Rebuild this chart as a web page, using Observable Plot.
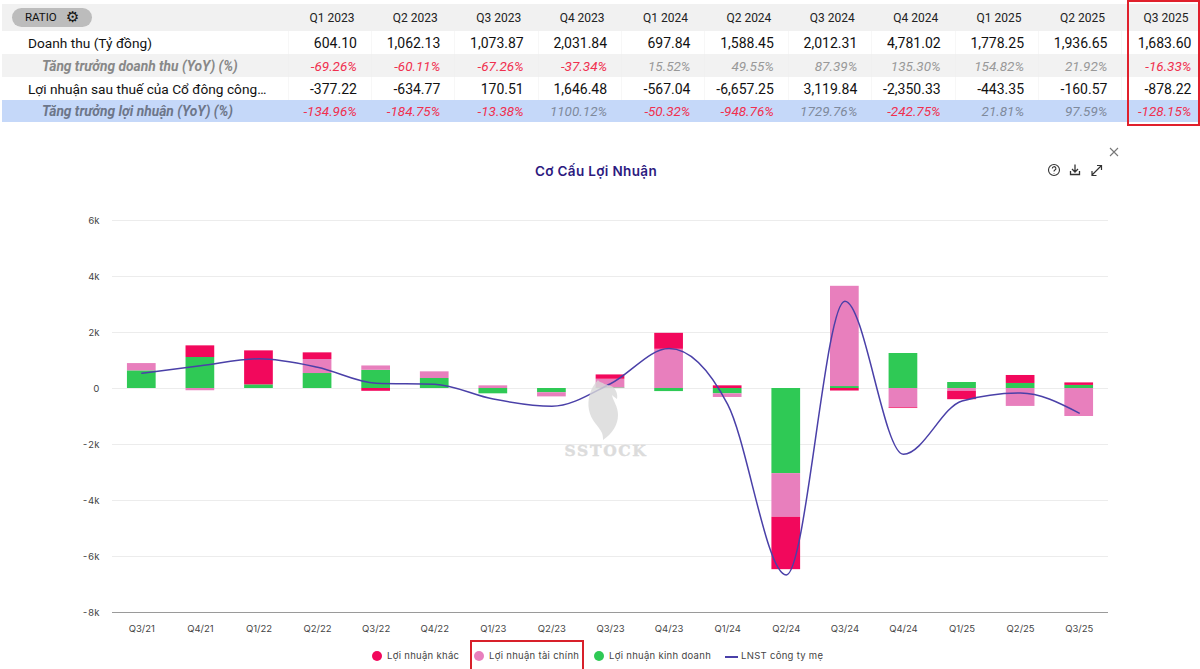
<!DOCTYPE html>
<html lang="vi">
<head>
<meta charset="utf-8">
<script src="https://cdn.jsdelivr.net/npm/d3@7"></script>
<script src="https://cdn.jsdelivr.net/npm/@observablehq/plot@0.6"></script>
<style>
html,body{margin:0;padding:0;background:#fff;width:1200px;height:669px;overflow:hidden}
#page{position:relative;width:1200px;height:669px;overflow:hidden}
#tableWrap{position:absolute;left:2px;top:4px;width:1196px;overflow:hidden}
table{border-collapse:collapse;table-layout:fixed;width:1203.4px;font-family:Roboto,sans-serif}
td{padding:0 14px 0 0;text-align:right;white-space:nowrap;overflow:hidden;box-sizing:border-box;height:23px;font-size:14px;color:#111;border-left:1px solid #f7f7f7}
td:first-child{text-align:left;border-left:0;padding-left:26px;font-size:13.7px}
tr.head td{height:27px;background:#f1f1f1;font-size:12px;color:#222;padding-right:17px;border-left:0}
tr.sub td{background:#f2f2f2;font-style:italic;font-size:13.5px;color:#999;height:23px;border-left-color:#f0f0f0}
tr.sub td:first-child{font-weight:700;color:#888;padding-left:40px;font-size:13.75px}
tr.hl td{background:#c5d8f9;font-style:italic;font-size:13.5px;color:#7f8a9c;height:22px;border-left-color:#c5d8f9}
tr.hl td:first-child{font-weight:700;color:#6d7689;padding-left:40px;font-size:13.75px}
td.neg{color:#f0304f!important}
#pill{position:absolute;left:12px;top:8px;width:80px;height:19px;border-radius:10px;background:#bcbcbc;font:11.5px Roboto,sans-serif;color:#111;line-height:19px}
#pill span{position:absolute;left:13px}
#pill b{position:absolute;left:54px;top:0;font:bold 15px "DejaVu Sans",sans-serif;line-height:18px}
#redBox{position:absolute;left:1127px;top:0;width:69px;height:122px;border:2px solid #e0202c}
#title{position:absolute;left:396px;width:400px;top:163px;text-align:center;font:600 13.5px Inter,sans-serif;letter-spacing:.35px;color:#2c1a80}
#chart{position:absolute;left:0;top:190px}
#legend{position:absolute;left:0;top:649px;font:9.5px Inter,sans-serif;letter-spacing:.3px;color:#444}
#legend i{position:absolute;top:2px;width:10px;height:10px;border-radius:50%}
#legend span{position:absolute;top:1px;white-space:nowrap}
#legend u{position:absolute;top:7px;left:725px;width:13px;height:1.5px;background:#4a40a8}
#legBox{position:absolute;left:470px;top:640px;width:110px;height:27px;border:2px solid #d8202a}
.ov{position:absolute;overflow:visible;pointer-events:none}
</style>
</head>
<body>
<div id="page">
<div id="tableWrap"></div>
<div id="pill"><span>RATIO</span><b>⚙</b></div>
<div id="redBox"></div>
<div id="title">Cơ Cấu Lợi Nhuận</div>
<svg class="ov" style="left:1040px;top:140px" width="90" height="45" fill="none" stroke="#333" stroke-width="1.1">
<path d="M70 8l8 8M78 8l-8 8" stroke="#777"/>
<circle cx="14" cy="30" r="5.5"/><path d="M12.3 28.5a1.8 1.8 0 1 1 2.6 1.6c-.7.4-.9.7-.9 1.3M14 33v.4"/>
<path d="M35 24.5v7M32 29l3 3 3-3M30.5 31v3.5h9V31" stroke-width="1.3"/>
<path d="M52 35l9-9M57 25.5h4.5V30M52 31v4.5h4.5" stroke-width="1.2"/>
</svg>
<div id="chart"></div>
<svg class="ov" style="left:0;top:0;opacity:.8" width="1200" height="669">
<path d="M598 380c-8 8-11 20-9 30 2 11 10 16 13 23 1 3 1 5 1 7 9-6 15-15 15-25 0-9-5-14-6-20 3 3 4 3 5 4 1-5-1-9-4-12-3-2-8-2-10-4-2-1-4-1-5-3z" fill="#d9d9d9"/>
<text x="606" y="456" text-anchor="middle" font-family="DejaVu Serif" font-weight="700" font-size="15.5" letter-spacing="1.7" fill="#d4d4d4" stroke="#d4d4d4" stroke-width=".4">SSTOCK</text>
</svg>
<div id="legend">
<i style="left:372px;background:#f2085c"></i><span style="left:387px">Lợi nhuận khác</span>
<i style="left:474px;background:#e87fbd"></i><span style="left:489px">Lợi nhuận tài chính</span>
<i style="left:594px;background:#2fc955"></i><span style="left:609px">Lợi nhuận kinh doanh</span>
<u></u><span style="left:741px">LNST công ty mẹ</span>
</div>
<div id="legBox"></div>
</div>
<script>
// ---- table data ----
const tableQuarters = ["Q1 2023","Q2 2023","Q3 2023","Q4 2023","Q1 2024","Q2 2024","Q3 2024","Q4 2024","Q1 2025","Q2 2025","Q3 2025"];
const revenue = ["604.10","1,062.13","1,073.87","2,031.84","697.84","1,588.45","2,012.31","4,781.02","1,778.25","1,936.65","1,683.60"];
const revenueGrowth = ["-69.26%","-60.11%","-67.26%","-37.34%","15.52%","49.55%","87.39%","135.30%","154.82%","21.92%","-16.33%"];
const netProfit = ["-377.22","-634.77","170.51","1,646.48","-567.04","-6,657.25","3,119.84","-2,350.33","-443.35","-160.57","-878.22"];
const profitGrowth = ["-134.96%","-184.75%","-13.38%","1100.12%","-50.32%","-948.76%","1729.76%","-242.75%","21.81%","97.59%","-128.15%"];

// ---- chart data ----
const quarters = ["Q3/21","Q4/21","Q1/22","Q2/22","Q3/22","Q4/22","Q1/23","Q2/23","Q3/23","Q4/23","Q1/24","Q2/24","Q3/24","Q4/24","Q1/25","Q2/25","Q3/25"];
const operating = [630,1107,130,535,650,357,-190,-150,20,-110,-190,-3040,70,1250,214,180,110];
const financial = [260,-80,0,500,155,238,95,-150,310,1400,-130,-1560,3580,-690,-100,-640,-1000];
const other = [0,416,1214,238,-100,0,0,0,155,570,95,-1870,-90,-25,-300,285,90];
const parentProfit = [547,810,1060,760,190,155,-377,-635,171,1430,-567,-6657,3120,-2350,-443,-161,-878];
const yTicks = [-8000,-6000,-4000,-2000,0,2000,4000,6000];
const seriesNames = ["Lợi nhuận kinh doanh","Lợi nhuận tài chính","Lợi nhuận khác"];
const seriesColors = ["#2fc955","#e87fbd","#f2085c"];

// table
const rows = [
  ["", "head", tableQuarters],
  ["Doanh thu (Tỷ đồng)", "", revenue],
  ["Tăng trưởng doanh thu (YoY) (%)", "sub", revenueGrowth],
  ["Lợi nhuận sau thuế của Cổ đông công…", "", netProfit],
  ["Tăng trưởng lợi nhuận (YoY) (%)", "hl", profitGrowth]
];
const cols = `<colgroup><col style="width:286px">${tableQuarters.map(()=>'<col style="width:83.4px">').join("")}</colgroup>`;
document.getElementById("tableWrap").innerHTML = "<table>" + cols + rows.map(([label,cls,vals]) =>
  `<tr class="${cls}"><td>${label}</td>${vals.map(v=>`<td class="${(cls==="sub"||cls==="hl")&&v.startsWith("-")?"neg":""}">${v}</td>`).join("")}</tr>`
).join("") + "</table>";

// chart
const stacks = [operating, financial, other].flatMap((vals,i) =>
  vals.map((v,j) => ({quarter: quarters[j], value: v, series: seriesNames[i]})));
const lineData = quarters.map((q,i) => ({quarter:q, value:parentProfit[i]}));

const plot = Plot.plot({
  width: 1200, height: 450,
  marginTop: 30, marginBottom: 28, marginLeft: 112, marginRight: 92,
  style: {fontFamily:"Inter,sans-serif", fontSize:"9.5px", color:"#444", background:"transparent"},
  x: {domain: quarters, round: false, paddingInner: 0.51, paddingOuter: 0.255, label: null, tickSize: 0, tickPadding: 13},
  y: {domain: [-8000,6000], ticks: yTicks, label: null, tickSize: 0, tickPadding: 13,
      tickFormat: d => d === 0 ? "0" : `${d/1000}k`},
  color: {domain: seriesNames, range: seriesColors},
  marks: [
    Plot.ruleY(yTicks.filter(d => d !== -8000), {stroke:"#ececec", strokeWidth:1}),
    Plot.ruleY([-8000], {stroke:"#9a9a9a", strokeWidth:1}),
    Plot.barY(stacks, Plot.stackY({x:"quarter", y:"value", fill:"series", z:"series", order: seriesNames})),
    Plot.line(lineData, {x:"quarter", y:"value", stroke:"#4a40a8", strokeWidth:1.5, curve:"monotone-x"})
  ]
});
document.getElementById("chart").appendChild(plot);
</script>
</body>
</html>
